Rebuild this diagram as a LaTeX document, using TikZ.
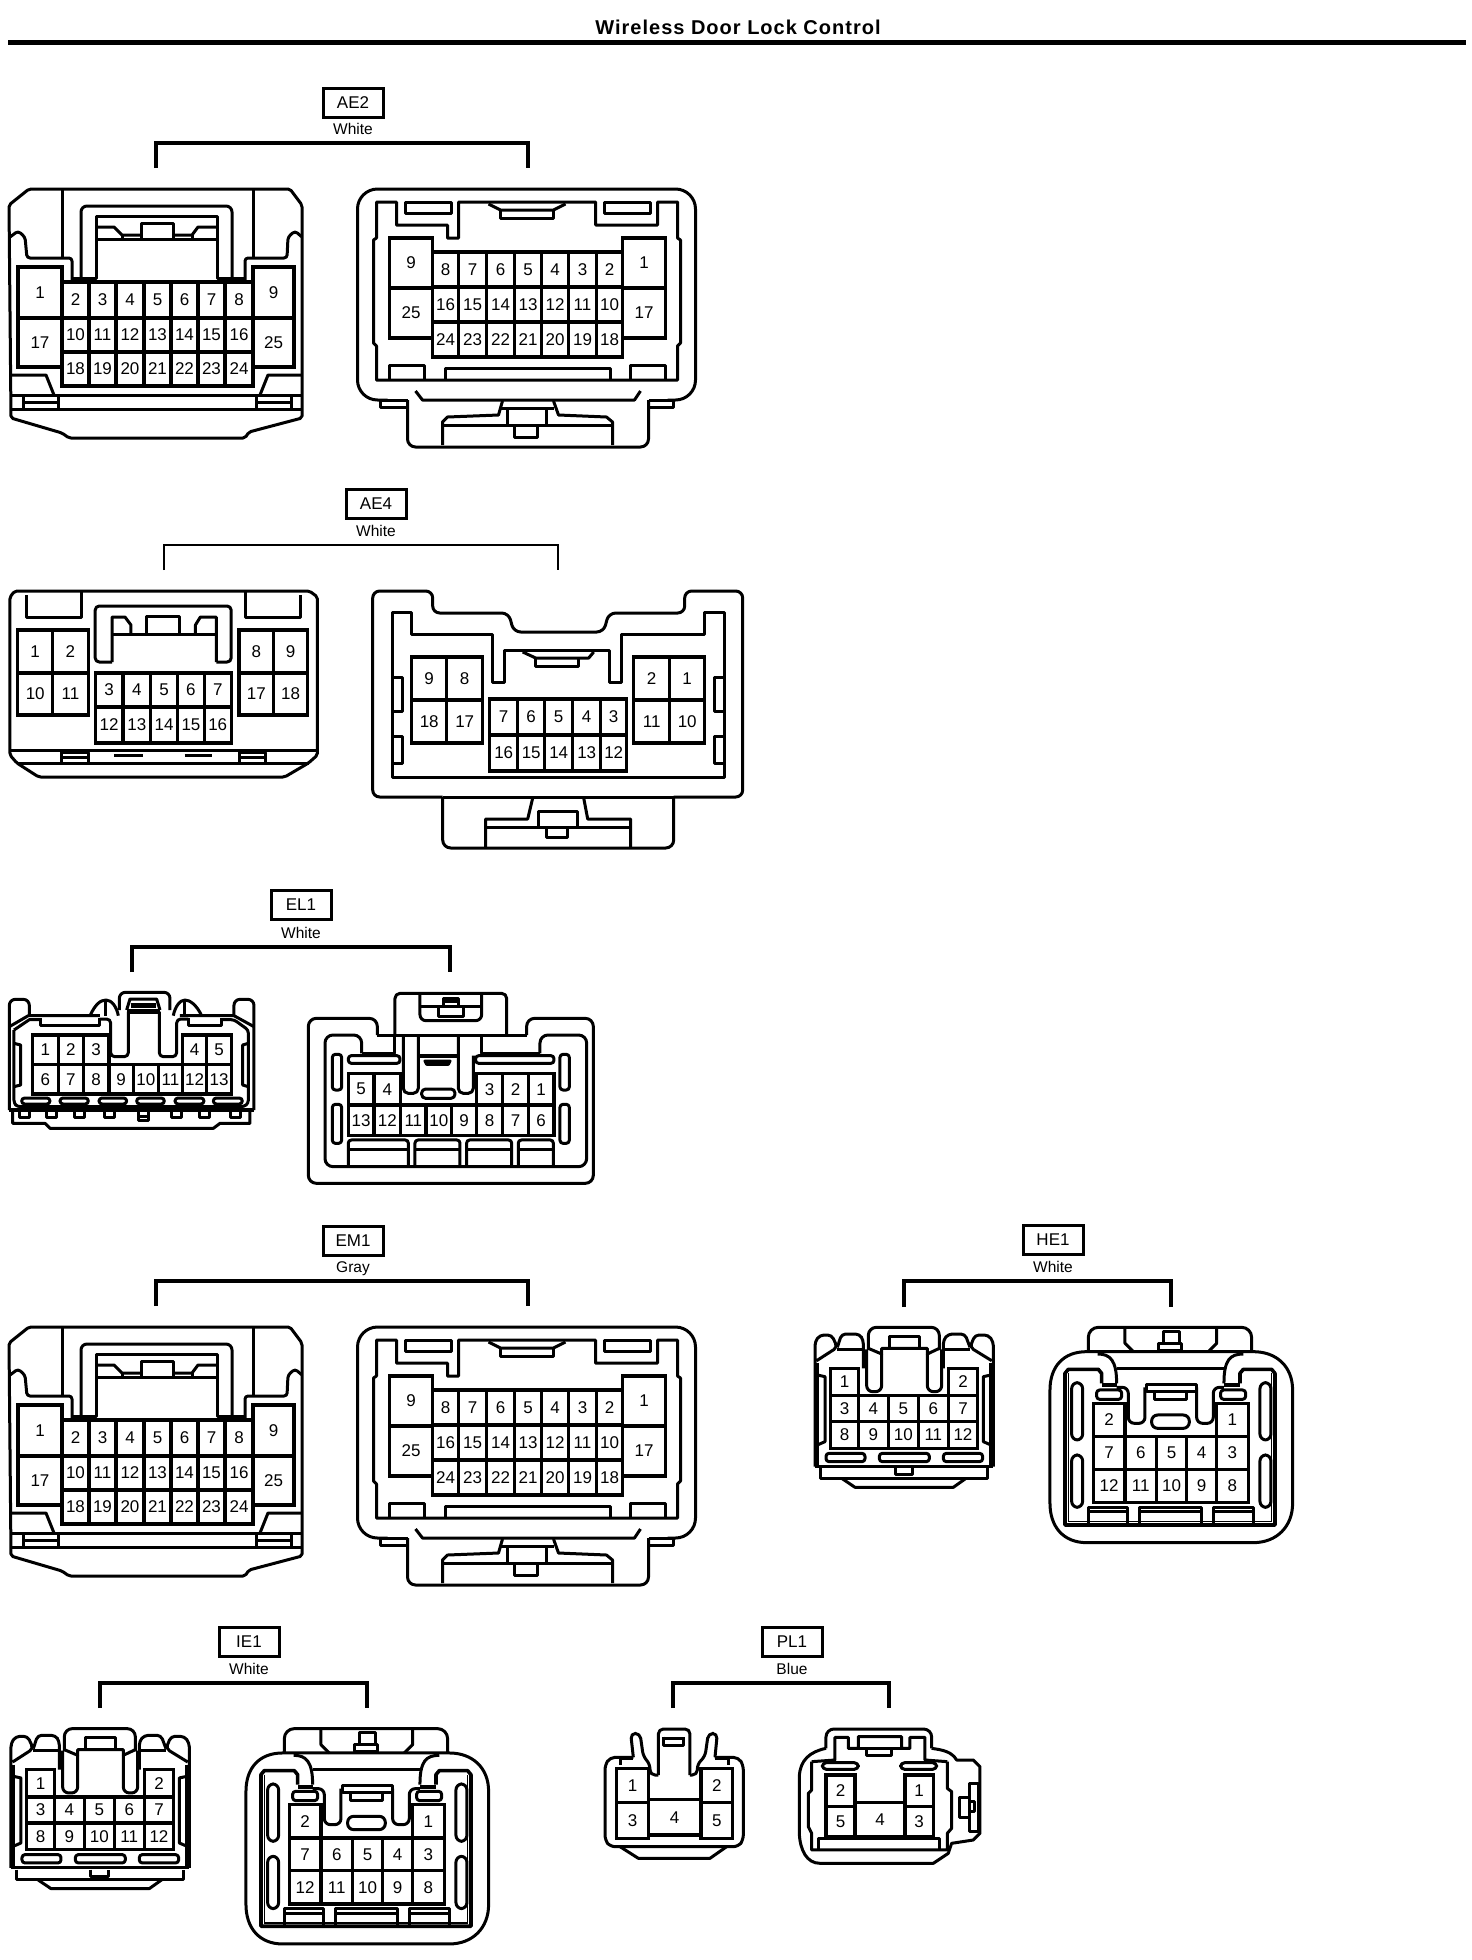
\documentclass[tikz,border=0pt]{standalone}
\usepackage{fontspec}
\setmainfont{Liberation Sans}
\usetikzlibrary{calc}

\newcommand{\pincell}[5]{\draw[pinline] (#1,#2) rectangle (#3,#4); \node[pinno] (p#5) at ($(#1,#2)!0.5!(#3,#4)$) {#5};}
\newcommand{\pinrow}[3]{\foreach \xa/\xb/\lab in {#3} {\pincell{\xa}{#1}{\xb}{#2}{\lab}}}

\tikzset{
  conline/.style={line width=3pt, line join=round},
  pinline/.style={line width=3.2pt, line join=miter},
  pinno/.style={inner sep=0pt, font=\fontsize{17}{19}\selectfont},
  slot/.style={conline, rounded corners=3pt},
  tagbox/.style={draw, line width=3pt, minimum width=60pt, minimum height=29pt, inner sep=0pt, font=\fontsize{17}{19}\selectfont},
  tagcolor/.style={inner sep=0pt, anchor=base, font=\fontsize{15.5}{17}\selectfont},
  bracket/.style={line width=3.4pt},
  aeleft/.pic={
    \draw[conline,rounded corners=2pt] (29,189) -- (290,189) -- (302,205) -- (302,418) -- (249,432) -- (245,438) -- (69,438) -- (62,433) -- (11,418) -- (9,205) -- cycle;
    \draw[conline] (62,190) -- (62,258);
    \draw[conline] (253,190) -- (253,258);
    \draw[conline,rounded corners=3pt] (10,237) -- (18,231) -- (25,237) -- (27,258) -- (72,258) -- (72,280);
    \draw[conline,rounded corners=3pt] (302,237) -- (295,231) -- (288,237) -- (287,258) -- (245,258) -- (245,280);
    \draw[conline,rounded corners=6pt] (81,278) -- (81,206) -- (232,206) -- (232,278);
    \draw[conline] (72,278) -- (96,278) -- (96,216) -- (217,216) -- (217,278) -- (245,278);
    \draw[conline] (96,227) -- (114,227) -- (122,235) -- (141,235);
    \draw[conline] (173,235) -- (192,235) -- (198,227) -- (217,227);
    \draw[conline] (96,239) -- (217,239);
    \draw[conline] (141,239) -- (141,223) -- (173,223) -- (173,239);
    \draw[conline] (122,235) -- (122,239);
    \draw[conline] (192,235) -- (192,239);
    \pinrow{267}{318}{18/62/1,253/294/9}
    \pinrow{318}{367}{18/62/17,253/294/25}
    \pinrow{282}{318}{62/89/2,89/116/3,116/144/4,144/171/5,171/198/6,198/225/7,225/253/8}
    \pinrow{318}{352}{62/89/10,89/116/11,116/144/12,144/171/13,171/198/14,198/225/15,225/253/16}
    \pinrow{352}{386}{62/89/18,89/116/19,116/144/20,144/171/21,171/198/22,198/225/23,225/253/24}
    \draw[conline] (10,375) -- (46,375) -- (54,395);
    \draw[conline] (302,375) -- (268,375) -- (260,395);
    \draw[conline] (10,395) -- (302,395);
    \draw[conline] (10,409) -- (302,409);
    \draw[conline] (23,395) -- (23,409);
    \draw[conline] (58,395) -- (58,409);
    \draw[conline] (23,402) -- (58,402);
    \draw[conline] (256,395) -- (256,409);
    \draw[conline] (291,395) -- (291,409);
    \draw[conline] (256,402) -- (291,402);
  },
  aeright/.pic={
    \draw[conline,rounded corners=20pt] (390,400) -- (360,400) -- (360,189) -- (698,189) -- (698,400) -- (670,400);
    \draw[conline] (383,400) -- (383,407) -- (410,407) -- (410,400);
    \draw[conline] (676,400) -- (676,407) -- (651,407) -- (651,400);
    \draw[conline] (383,400) -- (410,400);
    \draw[conline] (651,400) -- (676,400);
    \draw[conline,rounded corners=8pt] (410,400) -- (410,447) -- (651,447) -- (651,400);
    \draw[conline] (418,391) -- (425,400) -- (637,400) -- (643,391);
    \draw[conline] (379,380) -- (379,346) -- (376,343) -- (376,240) -- (379,238) -- (379,202) -- (399,202) -- (399,225) -- (450,225) -- (450,238) -- (461,238) -- (461,202) -- (598,202) -- (598,225) -- (660,225) -- (660,202) -- (680,202) -- (680,238) -- (683,240) -- (683,343) -- (680,346) -- (680,380) -- cycle;
    \draw[conline] (408,202) rectangle (454,213);
    \draw[conline] (607,202) rectangle (653,213);
    \draw[conline] (491,204) -- (503,210) -- (556,210) -- (568,204);
    \draw[conline] (503,210) -- (503,218) -- (556,218) -- (556,210);
    \pinrow{238}{288}{392/435/9,625/668/1}
    \pinrow{288}{338}{392/435/25,625/668/17}
    \pinrow{252}{287}{435/461/8,461/489/7,489/517/6,517/544/5,544/571/4,571/599/3,599/625/2}
    \pinrow{287}{322}{435/461/16,461/489/15,489/517/14,517/544/13,544/571/12,571/599/11,599/625/10}
    \pinrow{322}{357}{435/461/24,461/489/23,489/517/22,517/544/21,544/571/20,571/599/19,599/625/18}
    \draw[conline] (392,380) -- (392,365) -- (427,365) -- (427,380);
    \draw[conline] (633,380) -- (633,365) -- (668,365) -- (668,380);
    \draw[conline] (448,380) -- (448,368) -- (613,368) -- (613,380);
    \draw[conline] (505,401) -- (501,415) -- (450,417) -- (445,422) -- (445,445);
    \draw[conline] (556,401) -- (561,415) -- (609,417) -- (615,422) -- (615,445);
    \draw[conline] (445,425) -- (615,425);
    \draw[conline] (510,425) -- (510,408) -- (549,408) -- (549,425);
    \draw[conline] (503,408) -- (556,408);
    \draw[conline] (517,425) -- (517,437) -- (540,437) -- (540,425);
  },
  elleft/.pic={
    \begin{scope}[x=0.3333pt,y=-0.3333pt]
    \draw[conline,rounded corners=6pt] (28,375) -- (28,43) -- (88,43) -- (88,95);
    \draw[conline,rounded corners=6pt] (762,375) -- (762,43) -- (702,43) -- (702,95);
    \draw[line width=3.6pt] (28,375) -- (762,375);
    \draw[conline] (38,380) -- (38,415) -- (135,415) -- (150,430) -- (640,430) -- (660,415) -- (750,415) -- (750,380);
    \draw[conline] (28,125) -- (85,92) -- (300,92);
    \draw[conline] (762,125) -- (702,92) -- (540,92);
    \draw[conline,rounded corners=3pt] (42,135) -- (42,355) -- (52,365) -- (732,365) -- (745,355) -- (745,135) -- (702,104) -- (665,104);
    \draw[conline] (42,135) -- (88,104) -- (122,104);
    \draw[conline] (270,92) .. controls (285,60) and (300,45) .. (318,45) .. controls (335,45) and (350,65) .. (355,92);
    \draw[conline] (520,92) .. controls (525,65) and (540,45) .. (555,45) .. controls (570,45) and (590,60) .. (605,92);
    \draw[conline] (318,48) -- (318,92);
    \draw[conline] (555,48) -- (555,92);
    \draw[conline,rounded corners=6pt] (358,75) -- (358,22) -- (510,22) -- (510,75);
    \draw[conline] (380,75) -- (390,42) -- (470,42) -- (480,75);
    \draw[line width=5pt] (380,78) -- (480,78);
    \draw[line width=5pt] (392,62) -- (468,62);
    \draw[conline,rounded corners=4pt] (300,102) -- (332,102) -- (332,215) -- (385,215) -- (385,80);
    \draw[conline,rounded corners=4pt] (478,80) -- (478,215) -- (530,215) -- (530,102) -- (565,102);
    \draw[conline] (122,100) -- (122,120) -- (300,120) -- (300,100);
    \draw[conline] (565,100) -- (565,120) -- (665,120) -- (665,100);
    \draw[conline] (42,175) -- (62,180) -- (62,300) -- (42,305);
    \draw[conline] (745,175) -- (728,180) -- (728,300) -- (745,305);
    \pinrow{150}{238}{97/175/1,175/250/2,250/327/3,548/620/4,620/695/5}
    \pinrow{238}{327}{97/175/6,175/250/7,250/327/8,327/400/9,400/475/10,475/548/11,548/620/12,620/695/13}
    \foreach \xa/\xb in {65/150,180/265,297/380,410/493,525/612,640/727} {\draw[slot] (\xa,339) rectangle (\xb,357);}
    \foreach \xa/\xb in {60/90,140/170,225/255,315/345,515/545,600/630,692/722} {\draw[conline] (\xa,380) -- (\xa,398) -- (\xb,398) -- (\xb,380);}
    \draw[conline] (415,380) -- (415,405) -- (445,405) -- (445,380);
    \draw[conline] (415,393) -- (445,393);
    \end{scope}
  },
  elright/.pic={
    \begin{scope}[x=0.3333pt,y=-0.3333pt]
    \draw[conline,rounded corners=8pt] (232,150) -- (232,100) -- (25,100) -- (25,595) -- (880,595) -- (880,100) -- (680,100) -- (680,150);
    \draw[conline] (232,150) -- (680,150);
    \draw[conline,rounded corners=5pt] (285,150) -- (285,25) -- (620,25) -- (620,150);
    \draw[conline,rounded corners=6pt] (360,30) -- (360,107) -- (545,107) -- (545,30);
    \draw[conline] (360,65) -- (545,65);
    \draw[conline] (415,65) rectangle (490,93);
    \draw[conline] (430,40) rectangle (475,65);
    \draw[conline] (430,50) -- (475,50);
    \draw[conline,rounded corners=8pt] (185,205) -- (185,150) -- (75,150) -- (75,545) -- (860,545) -- (860,150) -- (720,150) -- (720,205);
    \draw[conline] (185,205) -- (285,205) -- (285,150);
    \draw[conline] (720,205) -- (545,205) -- (545,150);
    \draw[conline,rounded corners=5pt] (310,152) -- (310,325) -- (355,325) -- (355,152);
    \draw[conline,rounded corners=5pt] (475,152) -- (475,325) -- (520,325) -- (520,212);
    \draw[line width=4pt] (355,212) -- (475,212);
    \draw[conline] (375,228) -- (450,228) -- (445,238) -- (380,238) -- cycle;
    \draw[conline,rounded corners=4pt] (365,312) rectangle (465,340);
    \draw[slot] (145,212) rectangle (300,235);
    \draw[slot] (527,212) rectangle (762,235);
    \draw[slot] (97,208) rectangle (125,315);
    \draw[slot] (97,358) rectangle (125,475);
    \draw[slot] (780,208) rectangle (808,315);
    \draw[slot] (780,358) rectangle (808,475);
    \pinrow{265}{360}{145/222/5,222/302/4,530/608/3,608/685/2,685/762/1}
    \pinrow{360}{452}{145/222/13,222/302/12,302/378/11,378/455/10,455/530/9,530/608/8,608/685/7,685/762/6}
    \foreach \xa/\xb in {145/325,345/480,500/635,655/760} {
      \draw[conline,rounded corners=3pt] (\xa,545) -- (\xa,465) -- (\xb,465) -- (\xb,545);
      \draw[conline] (\xa,495) -- (\xb,495);
    }
    \end{scope}
  },
  heleft/.pic={
    \begin{scope}[x=0.3333pt,y=-0.3333pt]
    \draw[conline,rounded corners=4pt] (45,770) -- (45,395) -- (60,375) -- (95,375) -- (112,412) -- (50,452);
    \draw[conline,rounded corners=4pt] (580,770) -- (580,395) -- (565,375) -- (525,375) -- (510,412) -- (575,452);
    \draw[conline,rounded corners=4pt] (112,412) -- (125,372) -- (178,372) -- (190,390) -- (190,475);
    \draw[conline,rounded corners=4pt] (510,412) -- (495,372) -- (445,372) -- (430,390) -- (430,475);
    \draw[conline] (112,418) -- (190,418);
    \draw[conline] (430,418) -- (510,418);
    \draw[conline,rounded corners=8pt] (205,420) -- (205,352) -- (418,352) -- (418,420);
    \draw[conline] (205,415) -- (245,432) -- (245,415) -- (382,415) -- (382,432) -- (418,415);
    \draw[conline] (268,415) -- (268,380) -- (358,380) -- (358,415);
    \draw[conline,rounded corners=6pt] (200,418) -- (200,545) -- (245,545) -- (245,432);
    \draw[conline,rounded corners=6pt] (382,432) -- (382,545) -- (425,545) -- (425,418);
    \draw[conline] (52,495) -- (75,500) -- (75,695) -- (52,705);
    \draw[conline] (573,495) -- (550,500) -- (550,695) -- (573,705);
    \draw[conline] (52,460) -- (52,770);
    \draw[conline] (573,460) -- (573,770);
    \draw[conline] (45,770) -- (580,770);
    \pinrow{475}{557}{92/175/1,445/533/2}
    \pinrow{557}{635}{92/175/3,175/265/4,265/355/5,355/445/6,445/533/7}
    \pinrow{635}{715}{92/175/8,175/265/9,265/355/10,355/445/11,445/533/12}
    \draw[slot] (78,730) rectangle (195,755);
    \draw[slot] (238,730) rectangle (388,755);
    \draw[slot] (430,730) rectangle (548,755);
    \draw[conline] (62,775) -- (62,805) -- (562,805) -- (562,775);
    \draw[conline] (125,805) -- (165,832) -- (460,832) -- (498,805);
    \draw[conline] (285,775) -- (285,795) -- (338,795) -- (338,775);
    \end{scope}
  },
  heright/.pic={
    \begin{scope}[x=0.3333pt,y=-0.3333pt]
    \draw[conline] (750,540) .. controls (750,470) and (790,425) .. (860,425) -- (1360,425) .. controls (1430,425) and (1478,470) .. (1478,540) -- (1478,880) .. controls (1478,950) and (1430,998) .. (1360,998) -- (860,998) .. controls (790,998) and (750,950) .. (750,880) -- cycle;
    \draw[conline,rounded corners=10pt] (865,425) -- (865,352) -- (1355,352) -- (1355,425);
    \draw[conline] (975,355) -- (975,400) -- (1000,425);
    \draw[conline] (1250,355) -- (1250,400) -- (1225,425);
    \draw[conline] (1075,400) rectangle (1145,420);
    \draw[conline] (1092,365) rectangle (1140,400);
    \draw[conline] (893,432) .. controls (930,432) and (950,450) .. (950,520);
    \draw[conline] (1330,432) .. controls (1290,432) and (1272,450) .. (1272,520);
    \draw[conline] (950,475) -- (1272,475);
    \draw[line width=3.6pt,line join=round] (905,520) -- (905,490) -- (895,478) -- (805,478) -- (795,490) -- (795,945) -- (1425,945) -- (1425,490) -- (1415,478) -- (1330,478) -- (1320,490) -- (1320,520);
    \draw[line width=1.5pt] (805,490) -- (805,935) -- (1415,935) -- (1415,490);
    \fill (905,520) rectangle (950,532);
    \fill (1272,520) rectangle (1320,532);
    \draw[slot] (890,540) rectangle (965,568);
    \draw[slot] (1262,540) rectangle (1337,568);
    \draw[conline,rounded corners=6pt] (950,532) -- (985,532) -- (985,640) -- (1035,640) -- (1035,532);
    \draw[conline,rounded corners=6pt] (1272,532) -- (1240,532) -- (1240,640) -- (1190,640) -- (1190,532);
    \draw[conline] (1040,522) rectangle (1190,545);
    \draw[conline] (1065,545) -- (1065,568) -- (1160,568) -- (1160,545);
    \draw[conline,rounded corners=6pt] (1055,615) rectangle (1168,655);
    \draw[conline,rounded corners=6pt] (815,518) rectangle (848,690);
    \draw[conline,rounded corners=6pt] (815,735) rectangle (848,892);
    \draw[conline,rounded corners=6pt] (1380,518) rectangle (1413,690);
    \draw[conline,rounded corners=6pt] (1380,735) rectangle (1413,892);
    \pinrow{580}{680}{880/975/2,1250/1345/1}
    \pinrow{680}{778}{880/975/7,975/1070/6,1070/1160/5,1160/1250/4,1250/1345/3}
    \pinrow{778}{878}{880/975/12,975/1070/11,1070/1160/10,1160/1250/9,1250/1345/8}
    \foreach \xa/\xb in {865/982,1020/1205,1240/1360} {
      \draw[conline] (\xa,940) -- (\xa,893) -- (\xb,893) -- (\xb,940);
      \draw[conline] (\xa,906) -- (\xb,906);
    }
    \end{scope}
  },
  plleft/.pic={
    \begin{scope}[x=0.3333pt,y=-0.3333pt]
    \draw[conline,rounded corners=5pt] (130,412) -- (60,412) -- (45,435) -- (45,660) -- (60,680) -- (445,680) -- (460,660) -- (460,435) -- (445,412) -- (375,412);
    \draw[conline,rounded corners=5pt] (130,412) -- (122,340) -- (150,340) -- (160,410) -- (180,432) -- (180,465) -- (205,465);
    \draw[conline,rounded corners=5pt] (375,412) -- (382,340) -- (355,340) -- (345,410) -- (322,432) -- (322,465) -- (300,465);
    \draw[conline,rounded corners=5pt] (205,465) -- (205,327) -- (300,327) -- (300,465);
    \draw[conline] (222,350) -- (222,375) -- (280,375) -- (280,350);
    \draw[conline] (222,355) -- (280,355);
    \draw[conline] (92,435) -- (92,415) -- (130,415);
    \draw[conline] (375,415) -- (415,415) -- (415,435);
    \pinrow{445}{548}{80/175/1,333/428/2}
    \pinrow{548}{655}{80/175/3,333/428/5}
    \pincell{175}{538}{333}{645}{4}
    \draw[conline] (90,680) -- (145,715) -- (360,715) -- (410,680);
    \end{scope}
  },
  plright/.pic={
    \begin{scope}[x=0.3333pt,y=-0.3333pt]
    \draw[conline,rounded corners=8pt] (708,385) -- (708,327) -- (1025,327) -- (1025,385);
    \draw[conline] (708,385) .. controls (660,395) and (630,420) .. (628,470) -- (628,640) .. controls (630,690) and (650,730) .. (690,730) -- (1030,730) -- (1075,700) -- (1085,670) -- (1150,660) -- (1170,640) -- (1170,440) -- (1150,420) -- (1100,420) .. controls (1085,395) and (1060,390) .. (1025,385);
    \draw[conline] (665,425) -- (665,510) -- (655,520) -- (655,620) -- (665,640) -- (665,690) -- (1072,690) -- (1072,640) -- (1085,625) -- (1085,515) -- (1072,505) -- (1072,425);
    \draw[conline] (665,425) -- (735,420) -- (735,352) -- (775,352) -- (775,385) -- (805,385) -- (805,350) -- (935,350) -- (935,385) -- (960,385) -- (960,352) -- (1005,352) -- (1005,420) -- (1072,425);
    \draw[conline] (805,385) -- (935,385);
    \draw[conline] (830,385) -- (830,405) -- (905,405) -- (905,385);
    \draw[slot,rounded corners=4pt] (697,428) rectangle (805,448);
    \draw[slot,rounded corners=4pt] (932,428) rectangle (1040,448);
    \pinrow{465}{560}{708/795/2,945/1030/1}
    \pinrow{560}{650}{708/795/5,945/1030/3}
    \pincell{795}{548}{945}{650}{4}
    \draw[conline] (685,690) -- (685,655) -- (1050,655) -- (1050,690);
    \draw[conline] (1140,490) rectangle (1165,635);
    \draw[conline] (1108,532) rectangle (1140,592);
    \draw[conline] (1140,545) rectangle (1155,575);
    \end{scope}
  }
}

\begin{document}
\begin{tikzpicture}[x=1pt,y=-1pt]
\useasboundingbox (0,0) rectangle (1472,1960);
% title
\node[inner sep=0pt,font=\fontsize{20}{22}\selectfont\bfseries\addfontfeature{LetterSpace=5}] (title) at (738,27.5) {Wireless Door Lock Control};
\coordinate (rulel) at (8,42.5);
\coordinate (ruler) at (1466,42.5);
\draw[line width=5pt] (rulel) -- (ruler);
% AE2
\node[tagbox] (ae2) at (353,102.5) {AE2};
\node[tagcolor] (ae2c) at (353,134.5) {White};
\coordinate (ae2a) at (156,168);
\coordinate (ae2b) at (528,168);
\draw[bracket] (ae2a) -- ++(0,-25) -| (ae2b);
\pic (ae2l) at (0,0) {aeleft};
\pic (ae2r) at (-2.5,0) {aeright};
% AE4
\node[tagbox] (ae4) at (376,504) {AE4};
\node[tagcolor] (ae4c) at (376,536.5) {White};
\coordinate (ae4a) at (164,570);
\coordinate (ae4b) at (558,570);
\draw[bracket,line width=2.8pt] (ae4a) -- ++(0,-25) -| (ae4b);
\begin{scope}[name prefix=ae4l,xscale=0.992]
\draw[conline,rounded corners=2pt] (15,591) -- (312,591) -- (320,597) -- (320,755) -- (311,763) -- (287,777) -- (39,777) -- (17,763) -- (10,755) -- (10,597) -- cycle;
\draw[conline] (10,750) -- (320,750);
\draw[conline] (17,763) -- (311,763);
\draw[conline] (27,595) -- (27,617) -- (82,617) -- (82,592);
\draw[conline] (247,592) -- (247,617) -- (303,617) -- (303,595);
\draw[conline,rounded corners=4pt] (113,662) -- (96,662) -- (96,606) -- (233,606) -- (233,662) -- (218,662);
\draw[conline] (113,662) -- (113,617) -- (126,617) -- (132,625) -- (132,634);
\draw[conline] (218,662) -- (218,617) -- (202,617) -- (197,625) -- (197,634);
\draw[conline] (113,634) -- (218,634);
\draw[conline] (148,634) -- (148,616) -- (181,616) -- (181,634);
\pinrow{630}{673}{18/53/1,53/89/2,241/276/8,276/310/9}
\pinrow{673}{715}{18/53/10,53/89/11,241/276/17,276/310/18}
\pinrow{673}{707}{96/124/3,124/152/4,152/179/5,179/206/6,206/233/7}
\pinrow{707}{743}{96/124/12,124/152/13,152/179/14,179/206/15,206/233/16}
\draw[conline] (62,752) rectangle (89,763);
\draw[conline] (62,757) -- (89,757);
\draw[conline] (241,752) rectangle (268,763);
\draw[conline] (241,757) -- (268,757);
\draw[conline] (115,755) -- (144,755);
\draw[conline] (186,755) -- (214,755);
\end{scope}
\begin{scope}[name prefix=ae4r,xshift=-2.3pt]
\draw[conline,rounded corners=7pt] (445,797) -- (375,797) -- (375,591) -- (435,591) -- (435,613) -- (511,613) -- (516,632) -- (606,632) -- (611,613) -- (687,613) -- (687,591) -- (745,591) -- (745,797) -- (676,797);
\draw[conline] (445,797) -- (676,797);
\draw[conline] (395,777) -- (395,612) -- (414,612) -- (414,634) -- (495,634) -- (495,682) -- (507,682) -- (507,650) -- (612,650) -- (612,682) -- (624,682) -- (624,634) -- (707,634) -- (707,612) -- (727,612) -- (727,777) -- cycle;
\draw[conline] (525,652) -- (538,658) -- (591,658) -- (596,652);
\draw[conline] (538,658) -- (538,666) -- (581,666) -- (581,658);
\draw[conline] (395,677) -- (405,677) -- (405,711) -- (395,711);
\draw[conline] (395,736) -- (405,736) -- (405,763) -- (395,763);
\draw[conline] (727,677) -- (717,677) -- (717,711) -- (727,711);
\draw[conline] (727,736) -- (717,736) -- (717,763) -- (727,763);
\pinrow{657}{700}{414/449/9,449/485/8,636/672/2,672/707/1}
\pinrow{700}{743}{414/449/18,449/485/17,636/672/11,672/707/10}
\pinrow{699}{735}{492/520/7,520/547/6,547/575/5,575/603/4,603/629/3}
\pinrow{735}{771}{492/520/16,520/547/15,547/575/14,575/603/13,603/629/12}
\draw[conline,rounded corners=8pt] (445,797) -- (445,848) -- (676,848) -- (676,797);
\draw[conline] (535,798) -- (530,819) -- (488,819) -- (488,848);
\draw[conline] (586,798) -- (590,819) -- (633,819) -- (633,848);
\draw[conline] (488,827) -- (633,827);
\draw[conline] (541,827) -- (541,811) -- (580,811) -- (580,827);
\draw[conline] (549,827) -- (549,837) -- (570,837) -- (570,827);
\end{scope}
% EL1
\node[tagbox] (el1) at (301,905) {EL1};
\node[tagcolor] (el1c) at (301,938.5) {White};
\coordinate (el1a) at (132,972);
\coordinate (el1b) at (450,972);
\draw[bracket] (el1a) -- ++(0,-25) -| (el1b);
\pic (el1l) at (0,985) {elleft};
\pic (el1r) at (300,985) {elright};
% EM1
\node[tagbox] (em1) at (353,1240.5) {EM1};
\node[tagcolor] (em1c) at (353,1272.5) {Gray};
\coordinate (em1a) at (156,1306);
\coordinate (em1b) at (528,1306);
\draw[bracket] (em1a) -- ++(0,-25) -| (em1b);
\pic (em1l) at (0,1138) {aeleft};
\pic (em1r) at (-2.5,1138) {aeright};
% HE1
\node[tagbox] (he1) at (1053,1240) {HE1};
\node[tagcolor] (he1c) at (1053,1272.5) {White};
\coordinate (he1a) at (904,1307);
\coordinate (he1b) at (1171,1307);
\draw[bracket] (he1a) -- ++(0,-26) -| (he1b);
\pic (he1l) at (800,1210) {heleft};
\pic (he1r) at (800,1210) {heright};
% IE1
\node[tagbox] (ie1) at (249,1642) {IE1};
\node[tagcolor] (ie1c) at (249,1674.5) {White};
\coordinate (ie1a) at (100,1708);
\coordinate (ie1b) at (367,1708);
\draw[bracket] (ie1a) -- ++(0,-25) -| (ie1b);
\pic (ie1l) at (-4,1611.3) {heleft};
\pic (ie1r) at (-4,1611.3) {heright};
% PL1
\node[tagbox] (pl1) at (792,1642) {PL1};
\node[tagcolor] (pl1c) at (792,1674.5) {Blue};
\coordinate (pl1a) at (673,1708);
\coordinate (pl1b) at (889,1708);
\draw[bracket] (pl1a) -- ++(0,-25) -| (pl1b);
\pic (pl1l) at (590,1620) {plleft};
\pic (pl1r) at (590,1620) {plright};
\end{tikzpicture}
\end{document}
